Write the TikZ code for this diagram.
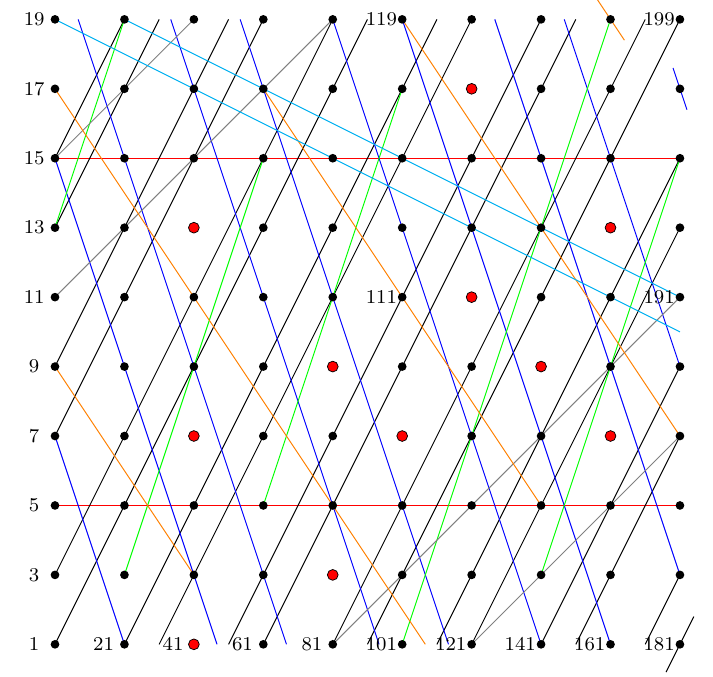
\documentclass[tikz,border=0pt]{standalone}
\definecolor{skyb}{RGB}{0,176,240}
\begin{document}
\begin{tikzpicture}[x=1cm,y=1cm,
  ln/.style={line width=0.4pt},
  bdot/.style={circle,fill=black,inner sep=0pt,minimum size=0.125cm},
  rdot/.style={circle,fill=red,draw=black,line width=0.3pt,inner sep=0pt,minimum size=0.155cm},
  lab/.style={font=\fontsize{8}{9.6}\selectfont,inner sep=0pt,anchor=center}]
\useasboundingbox (-0.792,-0.4565) rectangle (9.476,9.279);
% multiples of 5 (red rows)
\foreach \a/\b/\c/\d in {0/2/9/2, 0/7/9/7}
  \draw[ln,red] (\a,\b) -- (\c,\d);
% black family
\foreach \a/\b/\c/\d in {0/7/1/9, 0/6/1.5/9, 0/4/2.5/9, 0/3/3/9, 0/1/4/9, 0/0/4.5/9,
  1/0/5.5/9, 1.5/0/6/9, 2.5/0/7/9, 3/0/7.5/9, 4/0/8.5/9, 4.5/0/9/9, 5.5/0/9/7,
  6/0/9/6, 7/0/9/4, 7.5/0/9/3, 8.5/0/9/1, 8.8/-0.4/9.2/0.4}
  \draw[ln,black] (\a,\b) -- (\c,\d);
% blue family
\foreach \a/\b/\c/\d in {0/3/1/0, 0/7/2.3333/0, 0.3333/9/3.3333/0, 1.6667/9/4.6667/0,
  2.6667/9/5.6667/0, 4/9/7/0, 5/9/8/0, 6.3333/9/9/1, 7.3333/9/9/4, 8.9/8.3/9.1/7.7}
  \draw[ln,blue] (\a,\b) -- (\c,\d);
% green family
\foreach \a/\b/\c/\d in {0/6/1/9, 1/1/3/7, 3/2/5/8, 5/0/8/9, 7/1/9/7}
  \draw[ln,green] (\a,\b) -- (\c,\d);
% gray family
\foreach \a/\b/\c/\d in {0/7/2/9, 0/5/4/9, 4/0/9/5, 6/0/9/3}
  \draw[ln,gray] (\a,\b) -- (\c,\d);
% orange family
\foreach \a/\b/\c/\d in {0/8/5.3333/0, 5/9/9/3, 0/4/2/1, 3/8/7/2, 7.81/9.285/8.2/8.7}
  \draw[ln,orange] (\a,\b) -- (\c,\d);
% sky blue family
\foreach \a/\b/\c/\d in {0/9/9/4.5, 1/9/9/5}
  \draw[ln,skyb] (\a,\b) -- (\c,\d);
% dots
\foreach \i in {0,...,9}
  \foreach \j in {0,...,9} {
    \pgfmathtruncatemacro\n{20*\i+2*\j+1}
    \node[bdot] (n\n) at (\i,\j) {};
  }
\foreach \i/\j/\n in {2/0/41, 2/3/47, 2/6/53, 4/1/83, 4/4/89, 5/3/107, 6/5/131,
  6/8/137, 7/4/149, 8/3/167, 8/6/173}
  \node[rdot] (r\n) at (\i,\j) {};
% labels
\foreach \j in {0,...,9} {
  \pgfmathtruncatemacro\n{2*\j+1}
  \node[lab] (l\n) at (-0.3,\j) {\n};
}
\foreach \i in {1,...,9} {
  \pgfmathtruncatemacro\n{20*\i+1}
  \node[lab] (l\n) at (\i-0.3,0) {\n};
}
\foreach \i/\j/\n in {5/5/111, 5/9/119, 9/5/191, 9/9/199}
  \node[lab] (l\n) at (\i-0.3,\j) {\n};
\end{tikzpicture}
\end{document}
